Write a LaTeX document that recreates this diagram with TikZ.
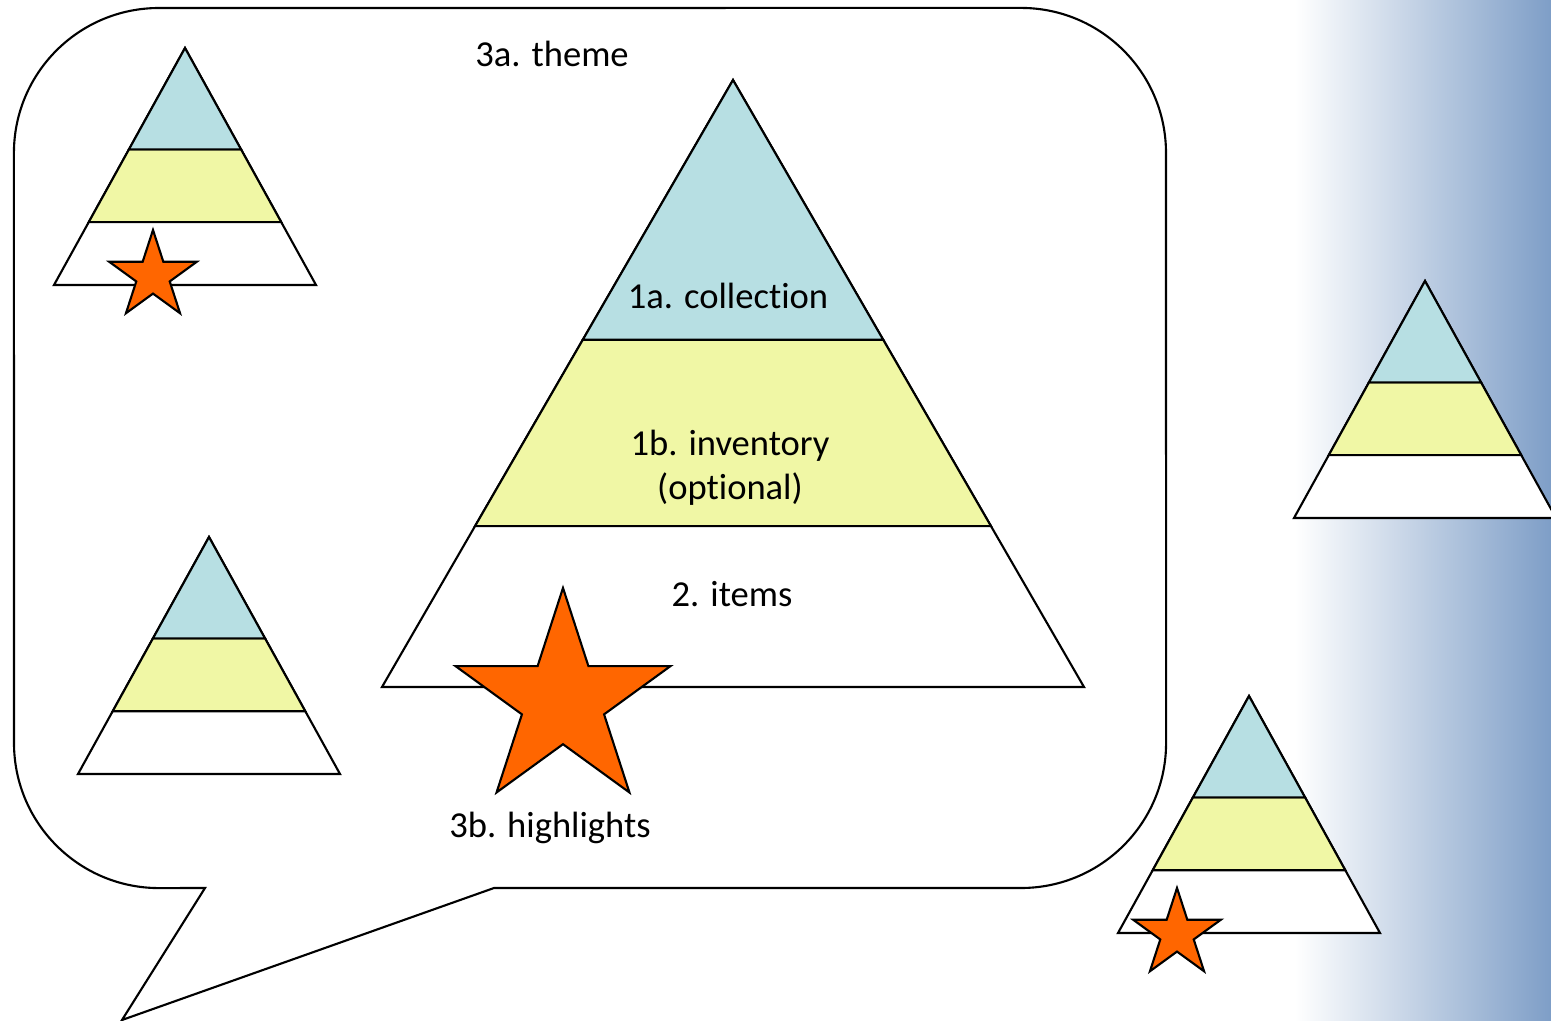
\documentclass[tikz,border=0pt]{standalone}
\usepackage{fontspec}
\setmainfont[RawFeature={-liga;-clig;-calt;-dlig}]{Carlito}
\usepackage{xcolor}
\usepackage{tikz}
\usetikzlibrary{shapes.geometric}

\definecolor{layerblue}{RGB}{183,223,227}
\definecolor{layeryellow}{RGB}{240,247,165}
\definecolor{starorange}{RGB}{255,102,0}
\definecolor{edgeblue}{RGB}{126,158,199}

% pyramid: apex x, apex y, half width, height
\newcommand{\pyramid}[4]{%
  \begin{scope}[shift={(#1,#2)}, xscale=#3, yscale=#4]
    \filldraw[fill=white] (0,0) -- (-1,1) -- (1,1) -- cycle;
    \filldraw[fill=layeryellow] (-0.735,0.735) -- (0.735,0.735) -- (0.428,0.428) -- (-0.428,0.428) -- cycle;
    \filldraw[fill=layerblue] (0,0) -- (-0.428,0.428) -- (0.428,0.428) -- cycle;
  \end{scope}}

\begin{document}
\begin{tikzpicture}[x=0.01cm, y=-0.01cm, line width=0.6pt,
    every node/.style={font=\fontsize{10.4}{12.5}\selectfont, inner sep=0pt},
    starmark/.style={star, star points=5, star point ratio=2.618, draw=black, fill=starorange}]
    \useasboundingbox (0,0) rectangle (1551,1021);
    \clip (0,0) rectangle (1551,1021);

    % Background fade on the right
    \shade[left color=white, right color=edgeblue, draw=none] (1295,0) rectangle (1551,1021);

    % Speech bubble
    \draw (205,888) -- (122,1020) -- (494,888) -- (1021,888)
        arc[start angle=-90, end angle=0, radius=1.45cm] -- (1166,153)
        arc[start angle=0, end angle=90, radius=1.45cm] -- (159,8)
        arc[start angle=90, end angle=180, radius=1.45cm] -- (14,743)
        arc[start angle=180, end angle=270, radius=1.45cm] -- cycle;

    % Big pyramid
    \pyramid{733}{80}{351}{607}

    % Small pyramids
    \foreach \ax/\ay in {185/48, 209/537, 1425/281, 1249/696} {
        \pyramid{\ax}{\ay}{131}{237}
    }

    % Stars
    \node[starmark, minimum size=2.26cm] (bigstar) at (563,701) {};
    \node[starmark, minimum size=0.92cm] (starleft) at (153,276) {};
    \node[starmark, minimum size=0.92cm] (starright) at (1177,934) {};

    % Labels
    \node[anchor=base] (theme) at (552,67) {3a. theme};
    \node[anchor=base] (collection) at (728,308) {1a. collection};
    \node[anchor=base, align=center] (inventory) at (730,499) {1b. inventory\\(optional)};
    \node[anchor=base] (items) at (732,606) {2. items};
    \node[anchor=base] (highlights) at (550,837) {3b. highlights};
\end{tikzpicture}
\end{document}
